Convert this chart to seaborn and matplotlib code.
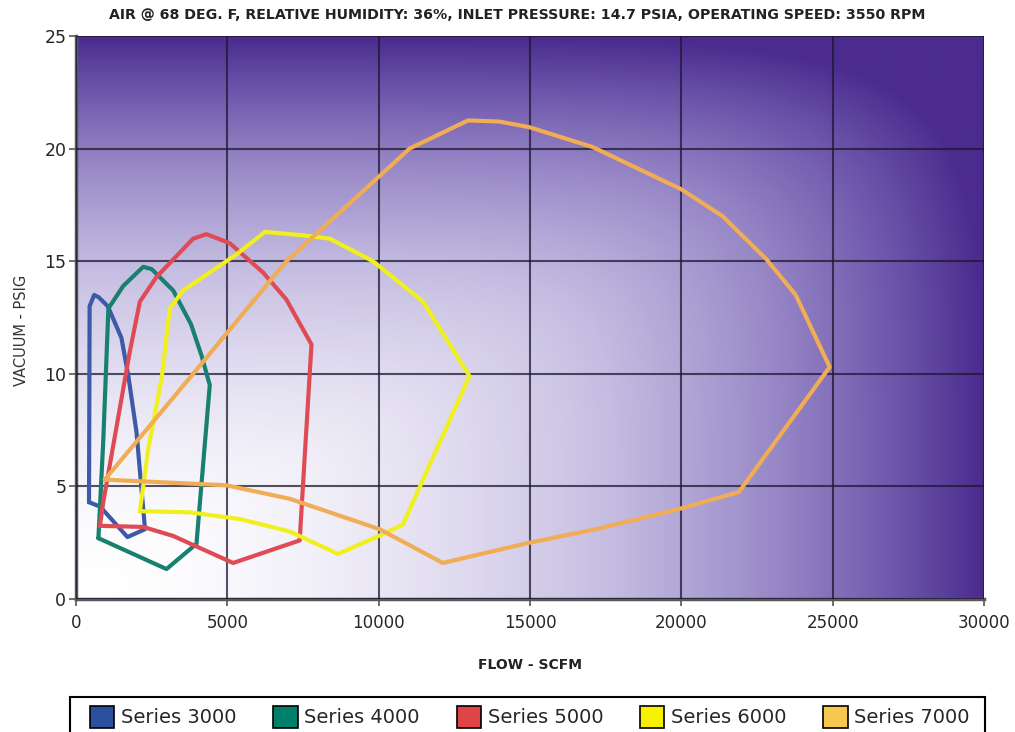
import numpy as np
import pandas as pd
import matplotlib
matplotlib.use("Agg")
import matplotlib.pyplot as plt
from matplotlib.colors import LinearSegmentedColormap
from matplotlib.patches import Patch, Rectangle
import seaborn as sns

sns.set_theme(style="white")
plt.rcParams['font.family'] = ['DejaVu Sans']

title = "AIR @ 68 DEG. F, RELATIVE HUMIDITY: 36%, INLET PRESSURE: 14.7 PSIA, OPERATING SPEED: 3550 RPM"
series_names = ["Series 3000", "Series 4000", "Series 5000", "Series 6000", "Series 7000"]

s3000_flow = [430, 450, 600, 750, 1050, 1500, 1730, 2000, 2280, 1700, 800, 430]
s3000_vac = [4.3, 13.0, 13.5, 13.4, 13.0, 11.6, 9.9, 7.4, 3.1, 2.75, 4.1, 4.3]

s4000_flow = [740, 900, 1070, 1560, 2220, 2500, 3210, 3800, 4150, 4420, 3980, 2990, 740]
s4000_vac = [2.7, 7.0, 12.9, 13.9, 14.75, 14.65, 13.7, 12.2, 10.8, 9.5, 2.45, 1.33, 2.7]

s5000_flow = [790, 900, 1780, 2110, 2660, 3870, 4310, 5080, 6180, 6950, 7780, 7390, 5190, 3210, 2220, 790]
s5000_vac = [3.25, 4.3, 11.0, 13.2, 14.3, 16.0, 16.2, 15.8, 14.5, 13.3, 11.3, 2.6, 1.6, 2.8, 3.2, 3.25]

s6000_flow = [2110, 2390, 2830, 3100, 3540, 5300, 6240, 7500, 8380, 9810, 11470, 13000, 10800, 10000, 8660, 7060, 5410, 3760, 2110]
s6000_vac = [3.9, 6.7, 9.8, 12.9, 13.7, 15.3, 16.3, 16.15, 16.0, 15.0, 13.2, 9.9, 3.3, 2.8, 2.0, 3.0, 3.55, 3.85, 3.9]

s7000_flow = [950, 3870, 6950, 11020, 12950, 13990, 14980, 17070, 19990, 21360, 22800, 23780, 24900,
              21900, 19930, 17180, 14980, 12120, 10030, 7060, 4970, 950]
s7000_vac = [5.3, 10.0, 15.0, 20.0, 21.25, 21.2, 20.95, 20.07, 18.2, 17.0, 15.1, 13.5, 10.3,
             4.75, 4.0, 3.1, 2.5, 1.6, 3.1, 4.45, 5.05, 5.3]

x_ticks = [0, 5000, 10000, 15000, 20000, 25000, 30000]
y_ticks = [0, 5, 10, 15, 20, 25]

line_colors = ["#3d5aa8", "#17806f", "#de4b55", "#f0f01e", "#f0ad55"]
legend_colors = ["#2a4f9f", "#00806a", "#e04545", "#f7f000", "#f7c850"]

frames = []
for name, fx, vy in zip(series_names,
                        [s3000_flow, s4000_flow, s5000_flow, s6000_flow, s7000_flow],
                        [s3000_vac, s4000_vac, s5000_vac, s6000_vac, s7000_vac]):
    frames.append(pd.DataFrame({"flow": fx, "vac": vy, "series": name, "order": range(len(fx))}))
df = pd.concat(frames, ignore_index=True)

fig = plt.figure(figsize=(10.15, 7.32), dpi=100)
ax = fig.add_axes([76/1015, 1-599/732, (984-76)/1015, (599-36)/732])

# gradient background
gx = np.linspace(0, 1, 400)
gy = np.linspace(0, 1, 300)
U, V = np.meshgrid(gx, gy)
h = U ** 1.7
vv = V ** 1.7
t = np.clip((h ** 4 + vv ** 4) ** 0.25, 0, 1)
cmap = LinearSegmentedColormap.from_list(
    "bg", [(0, "#ffffff"), (0.15, "#ebe8f5"), (0.4, "#c6bee2"), (0.65, "#9686c6"),
           (0.85, "#6c54aa"), (1.0, "#4b2c8e")])
ax.imshow(t, extent=[0, 30000, 0, 25], origin="lower", aspect="auto", cmap=cmap,
          vmin=0, vmax=1, zorder=0, interpolation="bilinear")

sns.lineplot(data=df, x="flow", y="vac", hue="series", sort=False, estimator=None,
             palette=dict(zip(series_names, line_colors)), linewidth=3.0,
             legend=False, ax=ax, zorder=3)

ax.set_xlim(0, 30000)
ax.set_ylim(0, 25)
ax.set_xticks(x_ticks)
ax.set_yticks(y_ticks)
ax.set_xticklabels([str(v) for v in x_ticks], fontsize=12)
ax.set_yticklabels([str(v) for v in y_ticks], fontsize=12.5)
ax.grid(True, color="#1c1830", linewidth=1.5, alpha=0.75, zorder=1)
ax.set_axisbelow(False)
for gl in ax.get_xgridlines() + ax.get_ygridlines():
    gl.set_zorder(1)
ax.tick_params(axis="x", direction="out", length=5, width=1.2, color="#555555", pad=6, bottom=True)
ax.tick_params(axis="y", direction="out", length=5, width=1.2, color="#555555", pad=2, left=True)
ax.set_xlabel("")
ax.set_ylabel("")
for s in ["top", "right"]:
    ax.spines[s].set_visible(False)
for s in ["left", "bottom"]:
    ax.spines[s].set_color("#5a5a5a")
    ax.spines[s].set_linewidth(2.5)

fig.text(517/1015, 1-15/732, title, ha="center", va="center", fontsize=10.2, fontweight="bold", color="#222222")
fig.text(530/1015, 1-665/732, "FLOW - SCFM", ha="center", va="center", fontsize=10, fontweight="bold", color="#222222")
fig.text(22/1015, 1-330/732, "VACUUM - PSIG", ha="center", va="center", rotation=90, fontsize=10.5, color="#333333")

# legend frame
fig.patches.append(Rectangle((70/1015, -0.05), (985-70)/1015, 0.05 + (732-697)/732,
                             transform=fig.transFigure, facecolor="white", edgecolor="black",
                             linewidth=1.5, zorder=5))
handles = [Patch(facecolor=c, edgecolor="black", linewidth=1.2) for c in legend_colors]
leg = fig.legend(handles, series_names, loc="center left",
                 bbox_to_anchor=(90/1015, 1-717/732, (970-90)/1015, 0), mode="expand",
                 ncol=5, fontsize=14, frameon=False, borderaxespad=0, borderpad=0,
                 handlelength=1.25, handleheight=1.4, handletextpad=0.35)
leg.set_zorder(6)

fig.savefig("out.png", dpi=100)
